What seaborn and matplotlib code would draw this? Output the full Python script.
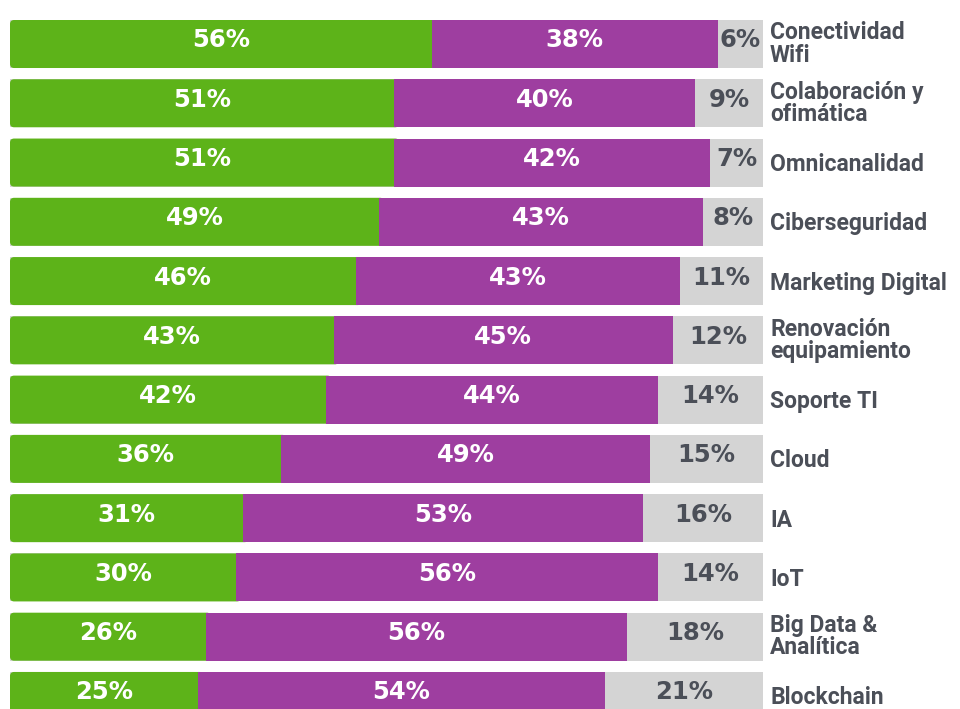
import matplotlib
matplotlib.use("Agg")
import matplotlib.pyplot as plt
from matplotlib.patches import FancyBboxPatch
import seaborn as sns
import pandas as pd
import numpy as np

categories = ["Conectividad\nWifi", "Colaboración y\nofimática", "Omnicanalidad",
              "Ciberseguridad", "Marketing Digital", "Renovación\nequipamiento",
              "Soporte TI", "Cloud", "IA", "IoT", "Big Data &\nAnalítica", "Blockchain"]
green = [56, 51, 51, 49, 46, 43, 42, 36, 31, 30, 26, 25]
purple = [38, 40, 42, 43, 43, 45, 44, 49, 53, 56, 56, 54]
grey = [6, 9, 7, 8, 11, 12, 14, 15, 16, 14, 18, 21]

C_GREEN = "#5DB319"
C_PURPLE = "#9E3EA0"
C_GREY = "#D4D4D4"
C_TEXT = "#4B4F58"

sns.set_theme(style="white")
plt.rcParams["font.family"] = ["DejaVu Sans"]

df = pd.DataFrame({"cat": categories, "green": green, "purple": purple, "grey": grey})
df["gp"] = df["green"] + df["purple"]
df["total"] = df["gp"] + df["grey"]

fig = plt.figure(figsize=(9.6, 7.09), dpi=100)
fig.patch.set_facecolor("white")
ax = fig.add_axes([10 / 960, 0, 753 / 960, (709 - 20) / 709])

n = len(df)
bw = 0.81
sns.barplot(data=df, y="cat", x="total", color=C_GREY, orient="h", width=bw,
            saturation=1, ax=ax, linewidth=0)
sns.barplot(data=df, y="cat", x="gp", color=C_PURPLE, orient="h", width=bw,
            saturation=1, ax=ax, linewidth=0)
sns.barplot(data=df, y="cat", x="green", color=C_GREEN, orient="h", width=bw,
            saturation=1, ax=ax, linewidth=0)

patches = list(ax.patches)
grey_p, purple_p, green_p = patches[:n], patches[n:2 * n], patches[2 * n:3 * n]

# make purple segments start where green ends, so green can sit underneath
for i, p in enumerate(purple_p):
    p.set_x(df["green"][i])
    p.set_width(df["purple"][i])
    p.set_zorder(2)
for p in grey_p:
    p.set_zorder(1)

ax.set_xlim(0, 100)
ax.set_ylim(11.22, -0.405)
ax.axis("off")

# round the left corners of the green bars (extended slightly underneath the purple)
r_x = 0.55                      # ~4 px in x data units
aspect = (1 / 59.27) / (1 / 7.53)
for p in green_p:
    x0, y0 = p.get_x(), p.get_y()
    w, h = p.get_width(), p.get_height()
    p.set_visible(False)
    fb = FancyBboxPatch((x0, y0), w + 0.7, h,
                        boxstyle=f"round,pad=0,rounding_size={r_x}",
                        mutation_aspect=aspect, facecolor=C_GREEN,
                        edgecolor="none", zorder=1.5)
    ax.add_patch(fb)

for i, row in df.iterrows():
    yv = i - 0.06
    ax.text(row["green"] / 2, yv, f"{row['green']}%", ha="center", va="center",
            color="white", fontsize=17.5, fontweight="bold", zorder=5)
    ax.text(row["green"] + row["purple"] / 2, yv, f"{row['purple']}%", ha="center",
            va="center", color="white", fontsize=17.5, fontweight="bold", zorder=5)
    ax.text(row["gp"] + row["grey"] / 2, yv, f"{row['grey']}%", ha="center",
            va="center", color=C_TEXT, fontsize=17.5, fontweight="bold", zorder=5)
    dy = 0 if "\n" in row["cat"] else -2
    ax.annotate(row["cat"], xy=(1, i), xycoords=ax.get_yaxis_transform(),
                xytext=(7, dy), textcoords="offset pixels", ha="left", va="center",
                color=C_TEXT, fontsize=16.5, fontweight="bold", linespacing=0.95,
                family=["Roboto", "DejaVu Sans"], annotation_clip=False)

fig.savefig("out.png", dpi=100)
